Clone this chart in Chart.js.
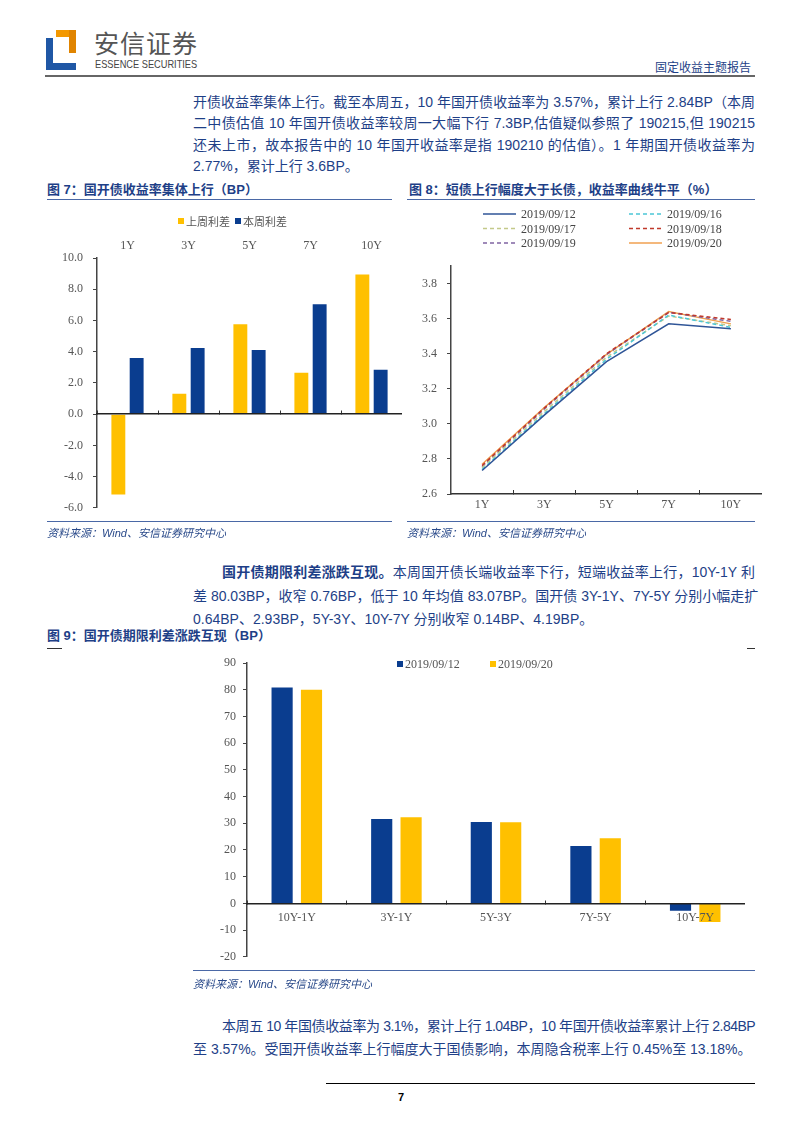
<!DOCTYPE html>
<html>
<head>
<meta charset="utf-8">
<script src="https://cdn.jsdelivr.net/npm/chart.js@4.4.1/dist/chart.umd.min.js"></script>
<style>
body { margin:0; background:#fff; width:802px; height:1133px; position:relative; overflow:hidden;
  font-family:"Liberation Sans","Noto Sans CJK SC",sans-serif; color:#1e3f87; }
.ln { position:absolute; left:193px; width:562px; font-size:14px; line-height:18px; white-space:nowrap;
  text-align:justify; text-align-last:justify; }
.ln.last { text-align-last:left; }
.ftitle { position:absolute; font-size:13px; font-weight:bold; line-height:16px; white-space:nowrap; }
.rule { position:absolute; height:0; border-top:1.5px solid #4a68a6; }
.src { position:absolute; font-size:11px; font-style:italic; white-space:nowrap; color:#2a4a8a; }
.blk { position:absolute; }
canvas { position:absolute; }
</style>
</head>
<body>
<!-- header -->
<div class="blk" style="left:56px;top:30px;width:20px;height:7px;background:#f39800"></div>
<div class="blk" style="left:69px;top:30px;width:7px;height:23px;background:#e08400"></div>
<div class="blk" style="left:46px;top:38px;width:7px;height:32px;background:#1f57a5"></div>
<div class="blk" style="left:46px;top:63px;width:30px;height:7px;background:#1f57a5"></div>
<div class="blk" style="left:94px;top:26px;font-size:25px;line-height:32px;color:#555;font-family:'Noto Sans CJK SC';letter-spacing:1px">安信证券</div>
<div class="blk" style="left:95px;top:58px;font-size:11px;line-height:12px;color:#444;white-space:nowrap;transform:scaleX(0.84);transform-origin:left top">ESSENCE SECURITIES</div>
<div class="blk" style="left:655px;top:61px;font-size:12px;line-height:14px;white-space:nowrap">固定收益主题报告</div>
<div class="blk" style="left:45px;top:75px;width:710px;height:2px;background:#666"></div>

<!-- paragraph 1 -->
<div class="ln" style="top:93px">开债收益率集体上行。截至本周五，10 年国开债收益率为 3.57%，累计上行 2.84BP（本周</div>
<div class="ln" style="top:114px">二中债估值 10 年国开债收益率较周一大幅下行 7.3BP,估值疑似参照了 190215,但 190215</div>
<div class="ln" style="top:136px">还未上市，故本报告中的 10 年国开收益率是指 190210 的估值）。1 年期国开债收益率为</div>
<div class="ln last" style="top:157px">2.77%，累计上行 3.6BP。</div>

<!-- figure titles 7, 8 -->
<div class="ftitle" style="left:47px;top:182px">图 7：国开债收益率集体上行（BP）</div>
<div class="rule" style="left:47px;top:199px;width:345px"></div>
<div class="ftitle" style="left:409px;top:182px">图 8：短债上行幅度大于长债，收益率曲线牛平（%）</div>
<div class="rule" style="left:407px;top:199px;width:348px"></div>

<canvas id="c7" width="357" height="315" style="left:45px;top:210px"></canvas>
<canvas id="c8" width="355" height="316" style="left:407px;top:200px"></canvas>

<div class="rule" style="left:47px;top:521px;width:345px"></div>
<div class="src" style="left:47px;top:524px">资料来源：Wind、安信证券研究中心</div>
<div class="rule" style="left:407px;top:521px;width:348px"></div>
<div class="src" style="left:407px;top:524px">资料来源：Wind、安信证券研究中心</div>

<!-- paragraph 2 -->
<div class="ln" style="top:563px;left:222px;width:533px"><b>国开债期限利差涨跌互现。</b>本周国开债长端收益率下行，短端收益率上行，10Y-1Y 利</div>
<div class="ln" style="top:587px">差 80.03BP，收窄 0.76BP，低于 10 年均值 83.07BP。国开债 3Y-1Y、7Y-5Y 分别小幅走扩</div>
<div class="ln last" style="top:610px">0.64BP、2.93BP，5Y-3Y、10Y-7Y 分别收窄 0.14BP、4.19BP。</div>

<div class="ftitle" style="left:47px;top:628px">图 9：国开债期限利差涨跌互现（BP）</div>
<div class="rule" style="left:47px;top:648px;width:15px;border-top-color:#333"></div>
<div class="rule" style="left:747px;top:648px;width:8px;border-top-color:#333"></div>

<canvas id="c9" width="555" height="339" style="left:190px;top:632px"></canvas>

<div class="rule" style="left:193px;top:970px;width:562px"></div>
<div class="src" style="left:193px;top:975px">资料来源：Wind、安信证券研究中心</div>

<!-- paragraph 3 -->
<div class="ln" style="top:1017px;left:222px;width:533px;letter-spacing:-0.55px">本周五 10 年国债收益率为 3.1%，累计上行 1.04BP，10 年国开债收益率累计上行 2.84BP</div>
<div class="ln last" style="top:1040px">至 3.57%。受国开债收益率上行幅度大于国债影响，本周隐含税率上行 0.45%至 13.18%。</div>

<div class="blk" style="left:326px;top:1083px;width:429px;height:1px;background:#000"></div>
<div class="blk" style="left:398px;top:1091px;font-size:11px;font-weight:bold;color:#000">7</div>

<script>
// 图7 国开债收益率变动 (BP)
const tenors = ['1Y', '3Y', '5Y', '7Y', '10Y'];
const lastWeekSpread = [-5.15, 1.3, 5.75, 2.65, 8.95];
const thisWeekSpread = [3.6, 4.24, 4.10, 7.03, 2.84];

// 图8 收益率曲线 (%)
const curveDates = ['2019/09/12', '2019/09/16', '2019/09/17', '2019/09/18', '2019/09/19', '2019/09/20'];
const curve0912 = [2.734, 3.050, 3.355, 3.570, 3.542];
const curve0916 = [2.740, 3.058, 3.368, 3.620, 3.550];
const curve0917 = [2.750, 3.070, 3.380, 3.615, 3.560];
const curve0918 = [2.762, 3.090, 3.400, 3.635, 3.595];
const curve0919 = [2.755, 3.085, 3.395, 3.635, 3.585];
const curve0920 = [2.770, 3.093, 3.396, 3.640, 3.570];

// 图9 期限利差 (BP)
const termSpreads = ['10Y-1Y', '3Y-1Y', '5Y-3Y', '7Y-5Y', '10Y-7Y'];
const spreadDates = ['2019/09/12', '2019/09/20'];
const spread0912 = [80.79, 31.61, 30.49, 21.47, -2.78];
const spread0920 = [80.03, 32.25, 30.35, 24.40, -6.97];

const BLUE = '#0a3d8f';
const GOLD = '#ffc000';
const tickFont = { family: '"Liberation Serif"', size: 12 };
const axisColor = '#444';

Chart.defaults.animation = false;
Chart.defaults.responsive = false;
Chart.defaults.devicePixelRatio = 1;

// small square legend, placed like the excel one (inside the plot)
function boxLegend(spots, font) {
    return {
        id: 'boxLegend',
        afterDraw(chart) {
            const ctx = chart.ctx;
            ctx.save();
            ctx.font = font;
            ctx.textBaseline = 'middle';
            chart.data.datasets.forEach((ds, i) => {
                const [x, y] = spots[i];
                ctx.fillStyle = ds.backgroundColor;
                ctx.fillRect(x, y - 3, 6, 6);
                ctx.fillStyle = '#555';
                ctx.fillText(ds.label, x + 8, y + 1);
            });
            ctx.restore();
        }
    };
}

// two-column legend for the curve chart
const curveLegend = {
    id: 'curveLegend',
    afterDraw(chart) {
        const ctx = chart.ctx;
        ctx.save();
        ctx.font = '12px "Liberation Serif"';
        ctx.textBaseline = 'middle';
        chart.data.datasets.forEach((ds, i) => {
            const x = 76 + (i % 2) * 146;
            const y = 14 + Math.floor(i / 2) * 14.5;
            ctx.strokeStyle = ds.borderColor;
            ctx.lineWidth = ds.borderWidth;
            ctx.setLineDash(ds.borderDash || []);
            ctx.beginPath();
            ctx.moveTo(x, y);
            ctx.lineTo(x + 33, y);
            ctx.stroke();
            ctx.setLineDash([]);
            ctx.fillStyle = '#444';
            ctx.fillText(ds.label, x + 38, y + 1);
        });
        ctx.restore();
    }
};

new Chart(document.getElementById('c7'), {
    type: 'bar',
    data: {
        labels: tenors,
        datasets: [
            { label: '上周利差', data: lastWeekSpread, backgroundColor: GOLD, categoryPercentage: 0.6, barPercentage: 0.76 },
            { label: '本周利差', data: thisWeekSpread, backgroundColor: BLUE, categoryPercentage: 0.6, barPercentage: 0.76 }
        ]
    },
    options: {
        layout: { padding: { top: 23, bottom: 3 } },
        plugins: { legend: { display: false }, tooltip: { enabled: false } },
        scales: {
            x: {
                type: 'category', position: { y: 0 }, offset: true,
                ticks: { display: false },
                grid: { display: true, drawOnChartArea: false, offset: true, tickLength: -4, color: '#333' },
                border: { color: '#222', width: 1.5, z: 1 }
            },
            x2: {
                type: 'category', labels: tenors, position: 'top', offset: true,
                grid: { display: false }, border: { display: false },
                ticks: { color: '#555', font: tickFont, padding: -3 },
                afterFit(s) { s.height = 25; }
            },
            y: {
                min: -6, max: 10,
                ticks: { stepSize: 2, color: '#555', font: tickFont, padding: 10, callback: v => v.toFixed(1) },
                grid: { display: true, drawOnChartArea: false, tickLength: 4, color: axisColor },
                border: { color: axisColor, width: 1.5 },
                afterFit(s) { s.width = 52; }
            }
        }
    },
    plugins: [boxLegend([[133, 11], [190, 11]], '11px "Noto Sans CJK SC"')]
});

const curveStyles = [
    { color: '#2f5597', dash: [] },
    { color: '#4bc6d6', dash: [4, 3] },
    { color: '#c4c98a', dash: [4, 3] },
    { color: '#c0392b', dash: [4, 3] },
    { color: '#8064a2', dash: [4, 3] },
    { color: '#f0a050', dash: [] }
];
const curves = [curve0912, curve0916, curve0917, curve0918, curve0919, curve0920];

new Chart(document.getElementById('c8'), {
    type: 'line',
    data: {
        labels: tenors,
        datasets: curves.map((c, i) => ({
            label: curveDates[i],
            data: c,
            borderColor: curveStyles[i].color,
            borderDash: curveStyles[i].dash,
            borderWidth: 1.5,
            pointRadius: 0,
            tension: 0
        }))
    },
    options: {
        layout: { padding: { top: 66 } },
        plugins: { legend: { display: false }, tooltip: { enabled: false } },
        scales: {
            x: {
                offset: true,
                ticks: { color: '#555', font: tickFont, padding: 8 },
                grid: { display: true, drawOnChartArea: false, offset: true, tickLength: -4, color: '#333' },
                border: { color: '#333', width: 1.5 },
                afterFit(s) { s.height = 22; }
            },
            y: {
                min: 2.6, max: 3.9,
                afterBuildTicks(s) { s.ticks = s.ticks.filter(t => t.value < 3.85); },
                ticks: { stepSize: 0.2, color: '#555', font: tickFont, padding: 10, callback: v => v.toFixed(1) },
                grid: { display: true, drawOnChartArea: false, tickLength: 4, color: axisColor },
                border: { color: axisColor, width: 1.5 },
                afterFit(s) { s.width = 44; }
            }
        }
    },
    plugins: [curveLegend]
});

new Chart(document.getElementById('c9'), {
    type: 'bar',
    data: {
        labels: termSpreads,
        datasets: [
            { label: spreadDates[0], data: spread0912, backgroundColor: BLUE, categoryPercentage: 0.59, barPercentage: 0.72 },
            { label: spreadDates[1], data: spread0920, backgroundColor: GOLD, categoryPercentage: 0.59, barPercentage: 0.72 }
        ]
    },
    options: {
        layout: { padding: { top: 31, bottom: 8 } },
        plugins: { legend: { display: false }, tooltip: { enabled: false } },
        scales: {
            x: {
                type: 'category', position: { y: 0 }, offset: true,
                ticks: { color: '#555', font: tickFont, padding: 11, z: 1 },
                grid: { display: true, drawOnChartArea: false, offset: true, tickLength: -4, color: '#333' },
                border: { color: '#222', width: 1.5, z: 1 }
            },
            y: {
                min: -20, max: 90,
                ticks: { stepSize: 10, color: '#555', font: tickFont, padding: 7 },
                grid: { display: true, drawOnChartArea: false, tickLength: 4, color: axisColor },
                border: { color: axisColor, width: 1.5 },
                afterFit(s) { s.width = 57; }
            }
        }
    },
    plugins: [boxLegend([[207, 32], [300, 32]], '12px "Liberation Serif"')]
});
</script>
</body>
</html>
